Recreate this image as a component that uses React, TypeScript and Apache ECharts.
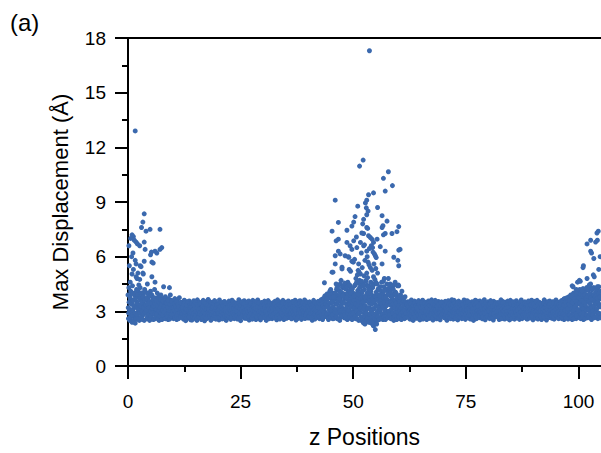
import React, { useEffect, useRef } from "react";
import * as echarts from "echarts";

// Max displacement of every atom along the z direction.
// The bulk atoms form two interleaved sets, each evenly spaced in z (step 0.1):
// set A starts at z = 0, set B at z = 0.05.
const bandStep = 0.1;
const bandAStart = 0;
const bandBStart = 0.05;

const bandA: number[] = [
  3.9, 2.6, 4.3, 3.1, 2.5, 3.7, 4.1, 2.8, 3.4, 2.4, 4.4, 3.0, 3.6, 2.7, 4.0, 3.3, 2.55, 3.8, 2.9, 4.2,
  3.5, 2.7, 4.1, 3.0, 3.8, 2.5, 3.3, 4.3, 2.9, 3.6, 2.6, 4.0, 3.2, 2.8, 3.9, 3.4, 2.5, 4.2, 3.1, 3.7,
  2.9, 3.6, 2.6, 4.0, 3.2, 2.7, 3.8, 3.0, 2.5, 3.5, 4.1, 2.8, 3.3, 3.9, 2.6, 3.4, 3.7, 2.9, 3.1, 4.2,
  3.3, 2.6, 3.7, 2.9, 3.5, 4.0, 2.7, 3.2, 3.8, 2.5, 3.0, 3.6, 2.8, 3.9, 3.4, 2.6, 3.1, 3.7, 2.9, 3.5,
  2.7, 3.4, 3.0, 3.8, 2.6, 3.2, 3.6, 2.9, 3.5, 2.55, 3.7, 3.1, 2.8, 3.3, 3.9, 2.65, 3.0, 3.6, 2.75, 3.4,
  3.1, 2.6, 3.5, 2.9, 3.7, 2.7, 3.3, 3.0, 2.55, 3.6, 3.2, 2.8, 3.4, 2.65, 3.75, 3.05, 2.9, 3.5, 2.7, 3.25,
  3.02, 2.71, 3.44, 2.58, 3.19, 3.61, 2.86, 3.27, 2.49, 3.08, 3.52, 2.77, 2.95, 3.36, 2.63, 3.13, 3.57, 2.82, 3.22, 2.54,
  3.31, 2.88, 2.52, 3.47, 3.05, 2.69, 3.58, 2.97, 3.24, 2.61, 3.41, 2.79, 3.11, 2.5, 3.63, 2.91, 3.18, 2.73, 3.5, 2.84,
  2.66, 3.35, 3.0, 2.55, 3.46, 2.9, 3.17, 3.6, 2.74, 3.28, 2.48, 3.09, 3.53, 2.81, 3.2, 2.6, 3.4, 2.98, 3.65, 2.7,
  3.14, 3.55, 2.68, 3.03, 2.51, 3.38, 2.87, 3.25, 2.62, 3.49, 2.93, 3.12, 3.59, 2.76, 3.3, 2.57, 3.06, 3.44, 2.8, 3.21,
  2.89, 3.23, 2.53, 3.62, 3.0, 2.72, 3.39, 2.94, 3.16, 2.59, 3.48, 2.83, 3.29, 2.67, 3.54, 3.07, 2.78, 3.33, 2.5, 3.1,
  3.37, 2.64, 3.15, 2.92, 3.56, 2.75, 3.04, 3.43, 2.56, 3.26, 2.85, 3.61, 2.69, 3.12, 2.97, 3.5, 2.6, 3.19, 3.42, 2.8,
  2.73, 3.45, 3.08, 2.58, 3.3, 2.9, 3.64, 2.65, 3.2, 3.01, 2.49, 3.36, 2.86, 3.52, 3.11, 2.7, 3.27, 2.95, 3.58, 2.62,
  3.18, 2.83, 3.5, 2.61, 2.99, 3.4, 2.74, 3.13, 3.57, 2.52, 3.24, 2.9, 3.46, 2.68, 3.05, 3.32, 2.57, 3.6, 2.79, 3.09,
  2.96, 3.53, 2.7, 3.22, 2.55, 3.35, 3.06, 2.81, 3.62, 2.64, 3.17, 3.44, 2.88, 3.0, 2.53, 3.28, 3.49, 2.76, 3.14, 2.67,
  3.41, 2.77, 3.1, 3.56, 2.63, 2.93, 3.25, 2.5, 3.37, 3.03, 2.72, 3.59, 2.85, 3.21, 2.6, 3.47, 2.98, 3.16, 2.69, 3.33,
  2.6, 3.26, 2.91, 3.48, 3.07, 2.66, 3.55, 2.78, 3.12, 3.38, 2.54, 2.97, 3.63, 2.73, 3.23, 2.87, 3.43, 2.58, 3.04, 3.51,
  3.09, 2.68, 3.39, 2.84, 3.6, 3.15, 2.55, 3.3, 2.94, 2.71, 3.5, 3.02, 2.62, 3.44, 2.8, 3.19, 3.57, 2.66, 3.27, 2.92,
  2.82, 3.47, 3.0, 2.59, 3.22, 3.54, 2.75, 3.1, 2.65, 3.36, 2.89, 3.61, 3.06, 2.52, 3.29, 2.96, 3.42, 2.7, 3.14, 3.55,
  3.24, 2.74, 3.58, 2.9, 3.12, 2.56, 3.4, 3.03, 2.68, 3.49, 2.83, 3.18, 3.62, 2.61, 2.99, 3.34, 2.78, 3.45, 2.64, 3.08,
  2.93, 3.32, 2.63, 3.52, 2.8, 3.07, 3.43, 2.7, 3.2, 2.51, 3.38, 2.97, 3.6, 2.76, 3.13, 2.58, 3.47, 3.01, 2.86, 3.28,
  3.16, 2.67, 3.55, 2.92, 3.31, 2.6, 3.46, 3.04, 2.79, 3.64, 2.88, 3.25, 2.55, 3.7, 3.1, 2.73, 3.5, 3.85, 2.95, 3.4,
  2.7, 3.6, 3.95, 2.85, 3.3, 2.55, 3.75, 3.1, 4.1, 2.65, 3.45, 2.95, 3.85, 3.2, 2.6, 4.0, 3.5, 2.8, 3.7, 3.05,
  3.9, 2.75, 3.4, 4.2, 2.6, 3.65, 3.0, 4.4, 2.9, 3.55, 2.5, 3.8, 3.25, 4.05, 2.7, 3.5, 4.3, 2.85, 3.15, 3.95,
  2.65, 3.7, 4.25, 3.1, 2.8, 3.9, 4.45, 2.55, 3.45, 4.1, 3.0, 2.7, 3.85, 4.35, 3.2, 2.6, 3.6, 4.2, 2.9, 3.35,
  4.0, 2.75, 3.5, 4.4, 3.05, 2.6, 3.8, 4.55, 3.25, 2.85, 4.15, 3.6, 2.5, 3.95, 4.3, 2.95, 3.4, 4.6, 2.7, 3.7,
  3.3, 4.5, 2.4, 3.75, 2.9, 4.2, 2.3, 3.55, 4.65, 2.6, 3.1, 4.0, 2.45, 3.85, 2.75, 4.4, 3.2, 2.5, 3.65, 4.1,
  2.35, 3.9, 2.7, 4.3, 3.15, 2.2, 3.6, 4.5, 2.55, 3.4, 2.4, 4.05, 2.85, 3.7, 2.5, 4.2, 3.0, 2.65, 3.8, 3.35,
  2.6, 3.5, 4.1, 2.8, 3.25, 3.95, 2.55, 3.7, 4.35, 2.9, 3.1, 3.85, 2.65, 3.4, 4.2, 3.0, 2.7, 3.6, 4.0, 2.95,
  3.45, 2.75, 4.15, 3.05, 2.6, 3.8, 3.3, 4.3, 2.85, 3.55, 2.5, 3.95, 3.2, 2.7, 4.05, 3.6, 2.9, 3.35, 4.4, 2.8,
  3.1, 3.7, 2.6, 3.4, 2.85, 3.9, 3.0, 2.55, 3.55, 3.2, 2.75, 3.65, 2.95, 3.35, 2.6, 3.8, 3.05, 2.7, 3.5, 3.15,
  2.84, 3.19, 3.53, 2.67, 3.0, 3.41, 2.57, 3.26, 2.93, 3.62, 2.72, 3.08, 3.37, 2.5, 3.15, 2.88, 3.56, 2.63, 3.23, 2.98,
  3.44, 2.62, 3.04, 3.3, 2.78, 3.59, 2.91, 3.13, 2.53, 3.48, 3.02, 2.69, 3.35, 2.86, 3.61, 2.58, 3.2, 2.95, 3.42, 2.74,
  3.06, 3.5, 2.79, 2.55, 3.38, 3.11, 2.68, 3.57, 2.9, 3.24, 2.61, 3.46, 3.0, 2.76, 3.63, 2.84, 3.17, 2.52, 3.33, 2.97,
  2.71, 3.27, 3.6, 2.94, 3.09, 2.59, 3.45, 2.82, 3.21, 3.54, 2.66, 3.01, 3.39, 2.54, 3.14, 2.89, 3.52, 2.73, 3.29, 3.07,
  3.36, 2.8, 3.12, 2.64, 3.55, 3.03, 2.75, 3.4, 2.51, 3.22, 2.96, 3.58, 2.69, 3.1, 3.47, 2.85, 2.6, 3.31, 3.0, 3.64,
  2.9, 3.43, 2.57, 3.18, 3.6, 2.77, 3.05, 3.34, 2.63, 3.5, 2.87, 3.25, 2.53, 3.15, 3.56, 2.72, 3.38, 2.98, 2.66, 3.21,
  3.25, 2.6, 3.48, 2.99, 2.7, 3.35, 3.62, 2.83, 3.11, 2.56, 3.44, 3.02, 2.78, 3.58, 2.92, 3.2, 2.64, 3.5, 2.81, 3.13,
  2.58, 3.37, 3.08, 2.74, 3.53, 2.89, 3.23, 2.5, 3.46, 3.14, 2.68, 3.61, 2.94, 3.3, 2.6, 3.04, 3.55, 2.79, 3.17, 3.42,
  3.12, 3.57, 2.65, 3.28, 2.84, 3.01, 3.49, 2.59, 3.36, 2.76, 3.19, 3.64, 2.9, 2.54, 3.41, 3.07, 2.71, 3.32, 2.96, 3.52,
  2.77, 3.09, 3.46, 2.6, 3.24, 3.59, 2.86, 3.0, 2.67, 3.4, 3.16, 2.52, 3.55, 2.93, 3.27, 2.7, 3.47, 3.05, 2.82, 3.35,
  3.48, 2.73, 3.2, 2.97, 2.55, 3.39, 3.1, 2.8, 3.63, 2.62, 3.31, 2.9, 3.54, 3.06, 2.69, 3.43, 2.58, 3.18, 3.5, 2.85,
  2.95, 3.3, 2.61, 3.56, 3.03, 2.78, 3.44, 2.53, 3.22, 3.6, 2.87, 3.12, 2.66, 3.38, 2.99, 3.52, 2.74, 3.25, 2.57, 3.08,
  3.21, 2.65, 3.58, 2.88, 3.14, 3.45, 2.7, 3.02, 3.33, 2.56, 3.49, 2.82, 3.17, 3.62, 2.93, 2.6, 3.36, 3.06, 2.79, 3.4,
  2.68, 3.52, 3.0, 2.76, 3.29, 2.59, 3.41, 3.15, 2.91, 3.57, 2.64, 3.26, 2.98, 3.47, 2.72, 3.1, 3.61, 2.84, 3.34, 2.54,
  3.32, 2.86, 3.11, 3.55, 2.63, 3.05, 3.42, 2.75, 3.6, 2.97, 2.58, 3.27, 3.5, 2.8, 3.16, 2.69, 3.45, 3.01, 2.55, 3.23,
  2.87, 3.46, 2.73, 3.19, 3.63, 2.61, 3.35, 2.94, 3.08, 2.52, 3.51, 3.0, 2.77, 3.4, 3.2, 2.66, 3.57, 2.9, 3.13, 3.3,
  3.07, 2.62, 3.39, 3.53, 2.81, 3.24, 2.57, 3.45, 2.96, 3.15, 3.62, 2.7, 3.03, 3.36, 2.85, 3.5, 2.6, 3.28, 2.99, 3.44,
  2.75, 3.3, 3.58, 2.6, 3.12, 3.47, 2.88, 3.65, 2.55, 3.21, 3.0, 3.55, 2.7, 3.38, 3.7, 2.9, 3.15, 2.58, 3.5, 3.8,
  3.05, 2.65, 3.6, 3.9, 2.8, 3.35, 2.55, 3.75, 3.15, 4.0, 2.7, 3.45, 2.95, 3.85, 3.25, 2.6, 3.65, 4.1, 2.85, 3.4,
  3.95, 2.7, 3.5, 4.2, 3.1, 2.6, 3.8, 4.05, 2.9, 3.3, 4.25, 2.55, 3.65, 3.0, 4.1, 3.45, 2.75, 3.9, 4.3, 3.2,
  2.65, 3.7, 4.15, 3.05, 3.5, 4.35, 2.8, 3.3, 3.95, 2.55, 4.2, 3.6, 2.9, 3.85, 4.3, 3.15, 2.7, 3.75, 4.05, 3.4,
  3.0, 4.2, 3.55, 2.6, 3.9, 4.35, 3.25, 2.75, 3.7, 4.1, 3.35,
];

const bandB: number[] = [
  3.2, 2.9, 3.5, 2.6, 3.8, 3.0, 2.7, 3.4, 4.0, 2.8, 3.1, 3.6, 2.5, 3.3, 3.9, 2.9, 3.7, 2.6, 3.2, 4.1,
  2.8, 3.4, 3.9, 2.6, 3.1, 3.7, 2.9, 3.3, 4.0, 2.7, 3.5, 3.0, 2.55, 3.8, 3.2, 2.85, 3.6, 4.1, 2.95, 3.35,
  3.05, 3.7, 2.65, 3.4, 3.95, 2.8, 3.2, 3.55, 2.6, 3.85, 3.0, 2.75, 3.45, 3.15, 2.9, 3.65, 2.55, 3.3, 3.75, 2.85,
  3.45, 2.7, 3.1, 3.6, 2.85, 3.3, 2.6, 3.75, 3.0, 3.5, 2.75, 3.2, 3.65, 2.9, 3.4, 2.55, 3.05, 3.55, 2.8, 3.25,
  2.95, 3.3, 2.6, 3.5, 3.1, 2.8, 3.45, 2.7, 3.25, 3.6, 2.9, 3.05, 2.58, 3.4, 3.15, 2.75, 3.55, 2.85, 3.2, 3.0,
  3.18, 2.79, 3.05, 3.42, 2.66, 3.29, 2.93, 3.51, 2.72, 3.1, 2.84, 3.37, 2.6, 3.23, 3.0, 2.9, 3.46, 2.7, 3.14, 2.97,
  2.87, 3.2, 2.68, 3.39, 3.03, 2.76, 3.48, 2.94, 3.12, 2.62, 3.33, 3.07, 2.81, 3.53, 2.99, 2.7, 3.26, 2.9, 3.41, 3.0,
  3.27, 2.95, 3.44, 2.73, 3.09, 2.86, 3.35, 2.64, 3.16, 3.5, 2.78, 3.01, 3.22, 2.58, 3.38, 2.92, 3.11, 2.69, 3.47, 2.83,
  2.91, 3.13, 3.45, 2.8, 3.04, 2.67, 3.3, 2.97, 3.52, 2.74, 3.19, 2.88, 3.4, 2.63, 3.08, 3.28, 2.79, 3.36, 2.96, 3.15,
  3.06, 2.72, 3.31, 2.98, 3.49, 2.83, 3.17, 2.61, 3.24, 2.93, 3.43, 2.77, 3.02, 3.55, 2.89, 3.21, 2.66, 3.34, 3.0, 2.85,
  3.38, 2.9, 3.11, 2.69, 3.26, 3.0, 2.82, 3.47, 2.95, 3.14, 2.6, 3.32, 2.87, 3.05, 3.5, 2.75, 3.2, 2.99, 3.41, 2.7,
  2.78, 3.22, 2.96, 3.44, 2.71, 3.09, 3.35, 2.86, 3.01, 2.65, 3.27, 3.12, 2.91, 3.52, 2.8, 3.18, 3.39, 2.68, 3.03, 3.29,
  3.1, 3.37, 2.74, 2.99, 3.24, 2.63, 3.46, 2.88, 3.15, 2.94, 3.33, 2.7, 3.07, 3.5, 2.84, 3.2, 2.97, 3.42, 2.76, 3.02,
  2.93, 2.67, 3.28, 3.06, 2.85, 3.48, 2.97, 3.19, 2.72, 3.36, 3.0, 2.81, 3.43, 2.9, 3.12, 2.62, 3.3, 3.04, 2.78, 3.25,
  3.34, 3.0, 2.79, 3.16, 2.92, 3.53, 2.69, 3.08, 3.27, 2.86, 3.45, 2.98, 2.73, 3.21, 3.04, 2.64, 3.38, 2.9, 3.13, 3.47,
  2.82, 3.09, 3.4, 2.7, 3.23, 2.95, 3.01, 3.49, 2.77, 3.18, 2.88, 3.3, 2.61, 3.14, 3.44, 2.92, 3.06, 2.75, 3.35, 2.99,
  3.21, 2.76, 3.05, 3.33, 2.89, 2.65, 3.42, 3.11, 2.94, 3.26, 2.71, 3.51, 2.98, 3.15, 2.8, 3.37, 3.03, 2.67, 3.29, 2.9,
  2.97, 3.31, 2.84, 3.12, 3.46, 2.73, 3.2, 2.9, 3.03, 2.63, 3.4, 3.17, 2.86, 3.28, 2.96, 3.52, 2.74, 3.08, 3.36, 2.81,
  3.15, 2.88, 3.39, 2.66, 3.07, 3.25, 2.95, 3.5, 2.79, 3.1, 3.32, 2.7, 3.0, 3.44, 2.85, 3.19, 2.6, 3.35, 3.02, 2.92,
  2.74, 3.43, 3.06, 2.9, 3.3, 2.68, 3.16, 3.01, 3.47, 2.83, 3.23, 2.96, 2.62, 3.37, 3.09, 2.8, 3.52, 2.93, 3.18, 3.04,
  3.29, 2.99, 2.71, 3.45, 3.13, 2.87, 3.34, 2.64, 3.2, 3.05, 2.94, 3.4, 2.76, 3.1, 3.49, 2.84, 3.0, 3.26, 2.69, 3.36,
  3.0, 3.24, 2.86, 3.5, 2.72, 3.15, 3.38, 2.95, 3.6, 2.8, 3.1, 3.45, 2.65, 3.3, 3.7, 2.9, 3.2, 3.55, 2.75, 3.4,
  3.6, 2.85, 3.3, 3.8, 2.65, 3.15, 3.9, 2.95, 3.45, 2.7, 3.7, 3.05, 3.5, 2.8, 3.95, 3.25, 2.6, 3.65, 3.0, 3.85,
  3.1, 3.75, 2.7, 3.4, 3.9, 2.9, 3.55, 3.2, 2.6, 3.8, 3.0, 3.65, 2.8, 3.35, 3.95, 2.75, 3.5, 3.1, 3.85, 2.95,
  3.45, 2.8, 3.95, 3.15, 2.6, 3.7, 3.3, 2.9, 3.85, 3.05, 3.6, 2.7, 3.4, 3.9, 2.85, 3.25, 3.75, 2.55, 3.5, 3.0,
  2.9, 3.6, 3.2, 3.85, 2.7, 3.4, 3.95, 3.05, 2.6, 3.75, 3.3, 2.85, 3.55, 3.9, 2.95, 3.15, 3.7, 2.5, 3.45, 3.8,
  2.55, 3.5, 3.1, 2.35, 3.8, 2.75, 3.3, 2.45, 3.65, 2.9, 3.95, 2.6, 3.2, 3.75, 2.4, 3.45, 2.85, 3.6, 2.5, 3.05,
  3.4, 2.45, 3.7, 2.9, 2.3, 3.55, 3.15, 2.6, 3.85, 2.8, 3.3, 2.5, 3.65, 3.0, 2.7, 3.9, 3.2, 2.55, 3.5, 2.95,
  3.1, 3.65, 2.6, 3.4, 3.9, 2.85, 3.25, 3.75, 2.7, 3.5, 3.05, 2.55, 3.8, 3.3, 2.9, 3.6, 2.65, 3.45, 3.95, 3.0,
  2.8, 3.35, 3.85, 2.6, 3.55, 3.1, 3.7, 2.9, 3.4, 2.65, 3.9, 3.2, 2.75, 3.6, 3.0, 3.45, 2.55, 3.75, 3.15, 2.95,
  3.3, 2.7, 3.55, 3.0, 3.75, 2.85, 3.2, 2.6, 3.45, 3.1, 2.95, 3.6, 2.75, 3.35, 3.05, 2.65, 3.5, 2.9, 3.25, 3.4,
  3.36, 2.69, 3.26, 3.0, 2.84, 3.49, 3.1, 2.76, 3.4, 2.94, 3.05, 3.2, 2.64, 3.34, 2.87, 3.13, 3.45, 2.71, 2.99, 3.29,
  3.04, 3.18, 2.93, 3.52, 2.8, 3.09, 3.37, 2.62, 2.96, 3.23, 2.83, 3.47, 3.01, 3.16, 2.68, 3.3, 2.9, 3.06, 3.43, 2.74,
  2.92, 3.02, 3.35, 2.6, 3.19, 2.85, 3.44, 3.0, 2.7, 3.32, 3.1, 2.79, 3.5, 2.95, 3.25, 3.07, 2.66, 3.39, 2.88, 3.15,
  2.81, 3.36, 3.08, 2.74, 3.52, 2.96, 3.28, 2.86, 3.17, 3.4, 2.63, 3.03, 2.9, 3.2, 2.73, 3.46, 3.12, 2.84, 3.31, 2.97,
  2.9, 3.29, 2.67, 3.03, 3.37, 2.8, 3.15, 2.98, 3.51, 2.71, 3.26, 2.94, 3.11, 3.42, 2.65, 2.89, 3.33, 3.05, 2.76, 3.21,
  2.99, 3.35, 2.75, 3.06, 2.92, 3.44, 3.14, 2.61, 3.3, 2.88, 3.18, 2.77, 3.49, 3.01, 2.95, 3.23, 2.7, 3.4, 3.09, 2.82,
  3.47, 3.13, 2.9, 3.38, 2.64, 3.04, 3.21, 2.73, 2.98, 3.45, 2.86, 3.27, 3.08, 2.69, 3.53, 2.92, 3.16, 2.79, 3.0, 3.34,
  3.25, 2.78, 3.04, 3.3, 2.62, 3.12, 2.9, 3.43, 2.81, 3.0, 3.36, 2.72, 3.19, 2.97, 3.48, 2.85, 3.06, 3.28, 2.67, 2.93,
  3.02, 2.76, 3.42, 2.97, 3.2, 2.84, 3.5, 3.07, 2.7, 3.33, 2.94, 3.15, 2.88, 3.46, 2.63, 3.24, 2.99, 2.74, 3.37, 3.1,
  3.29, 3.03, 2.68, 3.39, 3.18, 2.8, 3.52, 2.91, 3.12, 3.27, 2.65, 3.01, 2.86, 3.35, 3.09, 2.71, 3.44, 2.96, 3.22, 2.78,
  2.7, 3.41, 2.99, 3.2, 2.75, 3.5, 3.05, 2.87, 3.32, 2.6, 3.14, 2.95, 3.47, 2.82, 3.0, 3.26, 2.69, 3.11, 2.9, 3.38,
  2.85, 3.0, 3.34, 2.66, 3.21, 2.89, 3.55, 3.02, 2.77, 3.43, 2.93, 3.24, 2.61, 3.17, 2.83, 3.49, 2.98, 3.31, 2.72, 3.06,
  3.15, 2.96, 3.36, 2.79, 3.28, 3.08, 2.63, 3.4, 2.88, 3.19, 2.74, 3.52, 2.97, 3.3, 2.67, 3.04, 2.8, 3.45, 3.13, 2.91,
  2.83, 3.47, 2.69, 3.11, 2.92, 3.38, 2.58, 3.22, 3.01, 2.78, 3.5, 3.16, 2.64, 3.35, 2.86, 3.09, 2.73, 3.44, 2.95, 3.27,
  3.0, 3.41, 2.9, 3.26, 2.7, 2.99, 3.53, 2.81, 3.07, 3.33, 2.62, 3.12, 2.94, 3.48, 2.76, 3.03, 3.39, 2.68, 3.2, 2.87,
  2.97, 3.14, 2.7, 3.46, 2.9, 3.0, 3.23, 2.6, 3.37, 2.84, 3.1, 2.72, 3.51, 2.93, 3.29, 2.66, 3.42, 3.05, 2.79, 3.18,
  3.08, 2.74, 3.33, 2.95, 3.5, 2.68, 3.19, 3.02, 2.86, 3.4, 2.77, 3.13, 3.46, 2.91, 3.24, 2.63, 3.36, 3.0, 2.82, 3.27,
  2.9, 3.45, 3.1, 2.7, 3.6, 3.2, 2.85, 3.35, 3.7, 2.75, 3.05, 3.5, 2.65, 3.3, 3.75, 2.95, 3.15, 3.55, 2.8, 3.4,
  3.6, 2.8, 3.3, 3.85, 2.7, 3.15, 3.5, 2.95, 3.9, 3.05, 2.6, 3.7, 3.25, 2.85, 3.55, 3.95, 2.75, 3.4, 3.1, 3.8,
  3.0, 3.75, 2.65, 3.45, 3.95, 2.85, 3.3, 3.6, 2.7, 3.85, 3.15, 2.9, 3.5, 3.9, 2.6, 3.35, 3.7, 3.05, 2.8, 3.65,
  3.85, 3.1, 2.7, 3.55, 3.95, 2.9, 3.4, 3.75, 2.6, 3.2, 3.65, 3.0, 2.8, 3.9, 3.3, 2.65, 3.5, 3.8, 2.95, 3.45,
  3.15, 3.7, 2.75, 3.5, 3.95, 2.9, 3.35, 3.8, 2.65, 3.25,
];

// Atoms with large displacement near z = 0 ([z, displacement]).
const leftPeak: [number, number][] = [
  [1.6, 12.9], [3.6, 8.35], [3.3, 7.9], [3.0, 7.6], [4.0, 7.4], [4.9, 7.5], [7.1, 7.5], [1.2, 7.1],
  [0.9, 7.2], [1.8, 6.8], [3.6, 6.8], [2.6, 6.6], [3.8, 6.4], [7.5, 6.5], [7.1, 6.4], [6.4, 6.2],
  [6.0, 6.3], [5.0, 6.1], [5.2, 6.25], [1.1, 6.2], [0.8, 6.0], [1.6, 5.8], [3.6, 5.75], [5.3, 5.7],
  [5.6, 5.65], [2.7, 5.5], [2.9, 5.45], [1.2, 5.3], [1.8, 5.6], [0.9, 5.05], [2.2, 5.1], [3.3, 5.1],
  [3.4, 5.05], [1.8, 4.9], [5.3, 4.9], [2.0, 4.8], [2.6, 4.75], [6.0, 4.6], [9.2, 4.3], [1.0, 4.0],
  [1.6, 2.35], [0.5, 4.6], [0.3, 5.5], [2.4, 4.45], [4.3, 4.5], [7.9, 4.35], [0.2, 6.6], [0.6, 7.0],
  [1.4, 6.9], [2.1, 6.7],
];

// Atoms with large displacement around the middle of the cell.
const centerPeak: [number, number][] = [
  [53.6, 17.3], [52.2, 11.3], [51.4, 10.97], [57.8, 10.66], [56.7, 10.3], [58.7, 9.9], [46.0, 9.1], [57.1, 9.6],
  [54.5, 9.5], [53.4, 9.4], [53.0, 9.1], [52.7, 8.95], [51.0, 8.77], [52.9, 8.68], [55.4, 8.7], [53.3, 8.5],
  [53.0, 8.3], [50.4, 8.2], [56.4, 8.25], [52.3, 8.05], [50.1, 7.9], [52.1, 7.8], [46.7, 7.88], [57.5, 7.95],
  [56.6, 7.7], [60.1, 7.65], [49.7, 7.68], [48.6, 7.45], [45.3, 7.4], [53.0, 7.6], [53.2, 7.55], [56.4, 7.6],
  [52.3, 7.27], [51.9, 7.3], [59.7, 7.37], [58.6, 7.27], [57.1, 7.27], [56.7, 7.2], [53.4, 7.15], [53.8, 7.05],
  [54.2, 6.95], [54.5, 6.78], [55.3, 6.96], [50.7, 7.08], [50.1, 6.87], [46.7, 6.96], [46.2, 6.87], [48.6, 6.78],
  [49.3, 6.6], [49.7, 6.4], [50.8, 6.5], [51.6, 6.78], [52.3, 6.6], [52.5, 6.65], [53.0, 6.3], [54.0, 6.6],
  [54.3, 6.5], [56.0, 6.55], [57.1, 6.3], [60.1, 6.36], [60.4, 6.4], [46.7, 6.3], [47.1, 6.15], [46.0, 6.05],
  [48.2, 6.05], [49.0, 5.97], [48.9, 6.0], [51.8, 6.2], [54.9, 6.05], [55.1, 5.95], [54.7, 6.15], [59.0, 5.97],
  [59.9, 5.8], [60.1, 5.5], [50.0, 5.7], [50.3, 5.85], [49.7, 5.75], [51.2, 5.6], [52.0, 5.4], [52.6, 5.8],
  [53.3, 5.7], [53.5, 5.55], [53.8, 5.4], [54.2, 5.25], [54.6, 5.6], [55.0, 5.35], [55.4, 5.1], [53.1, 6.0],
  [53.6, 6.45], [54.4, 6.25], [56.4, 5.6], [46.0, 5.6], [47.5, 5.42], [47.5, 5.33], [49.1, 5.3], [49.4, 5.2],
  [51.3, 5.15], [51.6, 5.05], [50.9, 5.0], [51.1, 5.25], [52.4, 4.95], [53.0, 5.1], [54.5, 4.9], [54.8, 4.75],
  [55.0, 4.6], [45.5, 5.15], [45.3, 5.15], [56.9, 4.8], [56.7, 4.65], [57.8, 4.8], [58.2, 4.5], [60.1, 4.4],
  [43.6, 4.57], [47.1, 4.5], [46.7, 4.16], [46.0, 4.0], [47.5, 4.0], [47.8, 4.4], [48.3, 4.25], [48.6, 4.35],
  [49.3, 4.16], [49.0, 3.9], [50.4, 4.45], [50.8, 4.6], [51.6, 4.35], [51.9, 4.0], [53.0, 4.43], [53.4, 4.07],
  [53.3, 4.35], [53.6, 4.2], [56.0, 4.35], [58.9, 4.2], [60.0, 4.45], [45.0, 4.2], [46.2, 4.5], [47.0, 4.1],
  [48.8, 4.6], [49.5, 4.0], [51.2, 4.55], [52.0, 4.1], [52.8, 4.7], [55.6, 4.25], [57.5, 4.5], [58.3, 4.0],
  [59.3, 4.6], [44.5, 3.9], [60.8, 4.1], [57.8, 3.9], [54.9, 2.0], [54.4, 2.26], [54.1, 2.4], [55.2, 2.3],
  [44.8, 3.75], [45.6, 3.8], [46.4, 4.3], [46.9, 3.7], [47.3, 4.7], [47.7, 3.85], [48.1, 4.55], [48.5, 3.75],
  [49.2, 4.45], [49.8, 4.25], [50.2, 3.85], [50.6, 4.8], [51.0, 3.95], [51.4, 4.7], [51.8, 4.65], [52.2, 4.4],
  [52.6, 3.8], [53.2, 4.85], [53.9, 4.6], [54.3, 4.4], [55.3, 4.5], [55.8, 3.85], [56.3, 4.6], [56.8, 4.1],
  [57.2, 3.75], [58.0, 4.3], [58.6, 3.8], [59.0, 4.45], [59.6, 3.95], [60.3, 3.8], [44.2, 3.7], [61.2, 3.75],
];

// Atoms with large displacement near the far end of the cell.
const rightPeak: [number, number][] = [
  [104.1, 7.3], [104.4, 7.4], [102.7, 6.9], [103.8, 6.8], [104.2, 6.9], [101.9, 6.7], [102.7, 6.3], [102.9, 6.2],
  [103.4, 5.9], [101.0, 5.4], [101.1, 5.5], [103.3, 5.0], [103.5, 4.9], [100.4, 4.65], [100.2, 4.7], [101.9, 4.8],
  [99.8, 4.6], [98.8, 4.35], [98.6, 4.4], [102.4, 4.45], [102.7, 4.5], [104.2, 4.35], [104.5, 5.3], [104.8, 6.0],
  [103.0, 4.2], [100.8, 4.1], [99.5, 4.2],
];

const xRange = { min: 0, max: 105 };
const xMajorTicks = [0, 25, 50, 75, 100];
const xMinorTicks = [12.5, 37.5, 62.5, 87.5];
const yTicks = { min: 0, max: 18, interval: 3 };

const FONT = "'Liberation Sans', Arial, sans-serif";
const POINT_COLOR = "#3b69ae";

function evenlySpaced(values: number[], start: number, step: number) {
  return values.map((y, i) => [Math.round((start + i * step) * 100) / 100, y]);
}

export default function App() {
  const ref = useRef<HTMLDivElement>(null);

  useEffect(() => {
    document.body.style.margin = "0";
    if (!ref.current) return;
    const chart = echarts.init(ref.current, undefined, { renderer: "svg" });

    const points = [
      ...evenlySpaced(bandA, bandAStart, bandStep),
      ...evenlySpaced(bandB, bandBStart, bandStep),
      ...leftPeak,
      ...centerPeak,
      ...rightPeak,
    ];

    const black = { color: "#000", width: 2 };

    chart.setOption({
      animation: false,
      backgroundColor: "#fff",
      grid: { left: 128, top: 38, bottom: 83, right: 0, containLabel: false },
      graphic: [
        {
          type: "text",
          left: 10,
          top: 10,
          style: { text: "(a)", font: `24px ${FONT}`, fill: "#000" },
        },
      ],
      xAxis: [
        {
          type: "value",
          min: xRange.min,
          max: xRange.max,
          name: "z Positions",
          nameLocation: "middle",
          nameGap: 59,
          nameTextStyle: { fontFamily: FONT, fontSize: 23, color: "#000" },
          axisLine: { show: true, lineStyle: black },
          axisTick: { show: true, inside: false, length: 13, customValues: xMajorTicks, lineStyle: black },
          axisLabel: {
            margin: 26,
            customValues: xMajorTicks,
            fontFamily: FONT,
            fontSize: 19,
            color: "#000",
          },
          splitLine: { show: false },
        },
        {
          type: "value",
          position: "top",
          min: xRange.min,
          max: xRange.max,
          axisLine: { show: true, lineStyle: black },
          axisTick: { show: false },
          axisLabel: { show: false },
          splitLine: { show: false },
        },
        {
          type: "value",
          position: "bottom",
          min: xRange.min,
          max: xRange.max,
          axisLine: { show: false },
          axisTick: { show: true, inside: false, length: 6, customValues: xMinorTicks, lineStyle: black },
          axisLabel: { show: false },
          splitLine: { show: false },
        },
      ],
      yAxis: {
        type: "value",
        min: yTicks.min,
        max: yTicks.max,
        interval: yTicks.interval,
        name: "Max Displacement (Å)",
        nameLocation: "middle",
        nameGap: 57,
        nameTextStyle: { fontFamily: FONT, fontSize: 22, color: "#000" },
        axisLine: { show: true, lineStyle: black },
        axisTick: { show: true, inside: false, length: 13, lineStyle: black },
        minorTick: { show: true, splitNumber: 2, length: 6, lineStyle: black },
        axisLabel: { margin: 22, fontFamily: FONT, fontSize: 19, color: "#000" },
        splitLine: { show: false },
      },
      series: [
        {
          type: "scatter",
          xAxisIndex: 0,
          symbol: "circle",
          symbolSize: 5,
          itemStyle: { color: POINT_COLOR, opacity: 1 },
          data: points,
        },
      ],
    });

    return () => chart.dispose();
  }, []);

  return <div ref={ref} style={{ width: 601, height: 453 }} />;
}
